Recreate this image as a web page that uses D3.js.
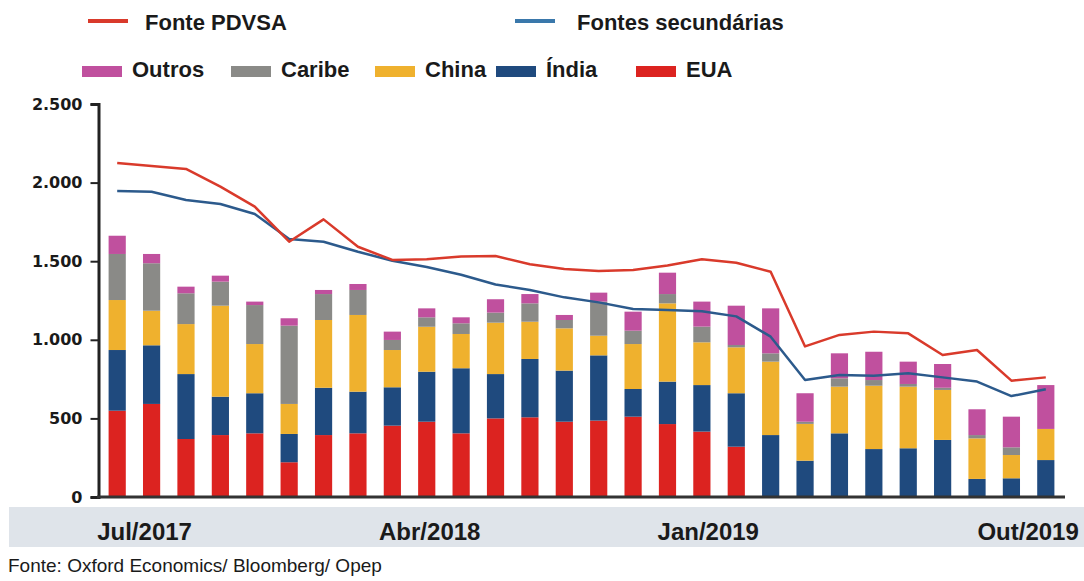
<!DOCTYPE html>
<html>
<head>
<meta charset="utf-8">
<script src="https://cdn.jsdelivr.net/npm/d3@7"></script>
<style>
  body { margin: 0; background: #fff; }
  svg { display: block; }
  text { font-family: "Liberation Sans", Arial, sans-serif; font-weight: bold; fill: #1a1a1a; }
</style>
</head>
<body>
<script>
// Jul/2017 .. Out/2019, mil barris/dia
const months = ['Jul/2017','Ago/2017','Set/2017','Out/2017','Nov/2017','Dez/2017',
  'Jan/2018','Fev/2018','Mar/2018','Abr/2018','Mai/2018','Jun/2018','Jul/2018','Ago/2018',
  'Set/2018','Out/2018','Nov/2018','Dez/2018','Jan/2019','Fev/2019','Mar/2019','Abr/2019',
  'Mai/2019','Jun/2019','Jul/2019','Ago/2019','Set/2019','Out/2019'];
const tickLabels = ['Jul/2017', 'Abr/2018', 'Jan/2019', 'Out/2019'];

const eua    = [549,592,369,394,405,221,394,405,454,479,405,500,507,479,486,511,464,416,320,0,0,0,0,0,0,0,0,0];
const india  = [386,373,413,244,255,180,301,265,244,318,414,282,371,325,415,176,270,296,340,394,231,405,305,310,363,115,119,235];
const china  = [318,220,318,579,313,191,431,488,237,286,218,327,237,269,125,286,498,272,292,467,234,297,403,392,318,258,148,198];
const caribe = [293,302,196,153,248,498,165,159,64,60,68,64,117,53,217,85,59,100,15,53,14,53,36,17,14,21,49,0];
const outros = [116,59,42,38,22,47,26,38,53,57,38,85,59,32,57,121,136,159,250,286,181,159,180,142,151,164,195,279];

const pdvsa       = [2125,2106,2087,1974,1847,1624,1766,1592,1508,1512,1530,1533,1481,1451,1438,1444,1472,1512,1490,1433,958,1031,1052,1041,903,935,740,761];
const secundarias = [1947,1942,1889,1864,1800,1641,1624,1560,1503,1463,1414,1352,1317,1270,1238,1196,1190,1182,1149,1020,744,776,772,787,761,734,642,685];

const yTicks = [0, 500, 1000, 1500, 2000, 2500];

const keys = ['EUA', 'Índia', 'China', 'Caribe', 'Outros'];
const colors = {
  'EUA': '#dc2320',
  'Índia': '#1f4a7e',
  'China': '#efb12e',
  'Caribe': '#8a8a87',
  'Outros': '#c0509e'
};
const lineRed = '#d93a2b';
const lineBlue = '#2c5a8c';

const width = 1084;
const height = 581;

const rows = months.map((m, i) => ({
  month: m,
  'EUA': eua[i], 'Índia': india[i], 'China': china[i], 'Caribe': caribe[i], 'Outros': outros[i]
}));

const svg = d3.select(document.body).append('svg')
  .attr('width', width)
  .attr('height', height);

const x = d3.scaleBand()
  .domain(months)
  .range([100, 1063])
  .paddingInner(0.5)
  .paddingOuter(0.25);

const y = d3.scaleLinear()
  .domain([0, 2500])
  .range([497, 104]);

const cx = d => x(d) + x.bandwidth() / 2;

// x band
svg.append('rect')
  .attr('x', 9).attr('y', 507)
  .attr('width', width - 9).attr('height', 40)
  .attr('fill', '#dfe4ea');

// bars
const stacked = d3.stack().keys(keys)(rows);
svg.append('g').selectAll('g')
  .data(stacked)
  .enter().append('g')
  .attr('fill', d => colors[d.key])
  .selectAll('rect')
  .data(d => d)
  .enter().append('rect')
  .attr('x', d => x(d.data.month))
  .attr('width', x.bandwidth())
  .attr('y', d => y(d[1]))
  .attr('height', d => y(d[0]) - y(d[1]));

// y axis
const fmt = d3.formatLocale({ decimal: ',', thousands: '.', grouping: [3], currency: ['', ''] }).format(',');
const yAxis = d3.axisLeft(y)
  .tickValues(yTicks)
  .tickFormat(fmt)
  .tickSize(8)
  .tickPadding(8);

const ya = svg.append('g')
  .attr('class', 'axis axis--y')
  .attr('transform', 'translate(98.5,0)')
  .call(yAxis);
ya.select('.domain').attr('stroke', '#222').attr('stroke-width', 3);
ya.selectAll('.tick line').attr('stroke', '#222').attr('stroke-width', 2);
ya.selectAll('.tick text')
  .style('font-family', '"DejaVu Sans", sans-serif')
  .style('font-size', '16px')
  .style('font-weight', 'bold')
  .attr('fill', '#1a1a1a');

// baseline
svg.append('line')
  .attr('x1', 97).attr('x2', 1065)
  .attr('y1', y(0)).attr('y2', y(0))
  .attr('stroke', '#333').attr('stroke-width', 3);

// lines
const line = d3.line()
  .x((d, i) => cx(months[i]))
  .y(d => y(d));

svg.append('path')
  .datum(secundarias)
  .attr('fill', 'none')
  .attr('stroke', lineBlue)
  .attr('stroke-width', 2.5)
  .attr('stroke-linejoin', 'round')
  .attr('d', line);

svg.append('path')
  .datum(pdvsa)
  .attr('fill', 'none')
  .attr('stroke', lineRed)
  .attr('stroke-width', 2.5)
  .attr('stroke-linejoin', 'round')
  .attr('d', line);

// x labels
const anchors = ['start', 'middle', 'middle', 'end'];
const shift = [-20, 3, -28, 33];
svg.append('g').selectAll('text')
  .data(tickLabels)
  .enter().append('text')
  .attr('x', (d, i) => cx(d) + shift[i])
  .attr('y', 540)
  .attr('text-anchor', (d, i) => anchors[i])
  .style('font-size', '24px')
  .text(d => d);

// legend: lines
const lineLegend = [
  { name: 'Fonte PDVSA', color: lineRed, x: 88, tx: 145 },
  { name: 'Fontes secundárias', color: '#3a78ab', x: 515, tx: 577 }
];
const ll = svg.append('g').selectAll('g')
  .data(lineLegend)
  .enter().append('g');
ll.append('line')
  .attr('x1', d => d.x).attr('x2', d => d.x + 40)
  .attr('y1', 21).attr('y2', 21)
  .attr('stroke', d => d.color).attr('stroke-width', 4);
ll.append('text')
  .attr('x', d => d.tx).attr('y', 30)
  .style('font-size', '22px')
  .text(d => d.name);

// legend: bars
const legendOrder = ['Outros', 'Caribe', 'China', 'Índia', 'EUA'];
const legendX = [82, 231, 375, 496, 636];
const bl = svg.append('g').selectAll('g')
  .data(legendOrder)
  .enter().append('g')
  .attr('transform', (d, i) => `translate(${legendX[i]},0)`);
bl.append('rect')
  .attr('x', 0).attr('y', 66)
  .attr('width', 40).attr('height', 11)
  .attr('fill', d => colors[d]);
bl.append('text')
  .attr('x', 50).attr('y', 77)
  .style('font-size', '22px')
  .text(d => d);

// source
svg.append('text')
  .attr('x', 8).attr('y', 572)
  .style('font-size', '19px')
  .style('font-weight', 'normal')
  .attr('fill', '#222')
  .text('Fonte: Oxford Economics/ Bloomberg/ Opep');
</script>
</body>
</html>
